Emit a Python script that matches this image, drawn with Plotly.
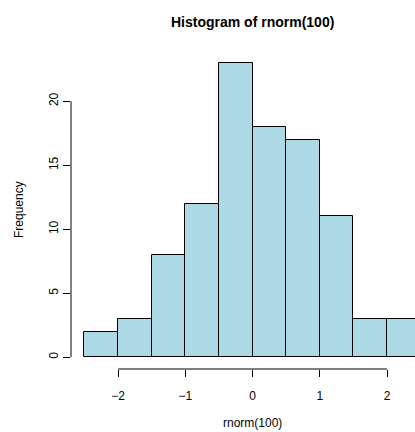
import plotly.graph_objects as go

breaks = [-2.5, -2.0, -1.5, -1.0, -0.5, 0.0, 0.5, 1.0, 1.5, 2.0, 2.5]
counts = [2, 3, 8, 12, 23, 18, 17, 11, 3, 3]
x_ticks = [-2, -1, 0, 1, 2]
y_ticks = [0, 5, 10, 15, 20]

title = "Histogram of rnorm(100)"
x_label = "rnorm(100)"
y_label = "Frequency"

centers = [(breaks[i] + breaks[i + 1]) / 2 for i in range(len(counts))]
widths = [breaks[i + 1] - breaks[i] for i in range(len(counts))]

font = "Liberation Sans, Arial, Helvetica, sans-serif"

fig = go.Figure()
fig.add_trace(go.Bar(
    x=centers, y=counts, width=widths,
    marker=dict(color="#ADD8E6", line=dict(color="black", width=1)),
    hoverinfo="x+y",
))

xr = [breaks[0] - 0.04 * (breaks[-1] - breaks[0]), 2.416]
yr = [-0.04 * max(counts), max(counts) * 1.04]

fig.update_layout(
    width=415, height=432,
    margin=dict(l=71, r=0, t=51, b=63),
    paper_bgcolor="white", plot_bgcolor="white",
    showlegend=False,
    bargap=0,
    font=dict(family=font, size=12, color="black"),
    xaxis=dict(
        range=xr, tickvals=x_ticks,
        ticktext=["\u2212" + str(-v) if v < 0 else str(v) for v in x_ticks],
        ticks="outside", ticklen=7, tickcolor="black", tickwidth=1,
        showgrid=False, zeroline=False, showline=False,
        ticklabelstandoff=9,
        tickfont=dict(size=12),
    ),
    yaxis=dict(
        range=yr, tickvals=y_ticks,
        ticks="outside", ticklen=7, tickcolor="black", tickwidth=1,
        showgrid=False, zeroline=False, showline=False,
        tickangle=-90, ticklabelstandoff=0,
        tickfont=dict(size=12),
    ),
    shapes=[
        dict(type="line", xref="x", yref="paper", x0=min(x_ticks), x1=max(x_ticks),
             y0=0, y1=0, line=dict(color="black", width=1)),
        dict(type="line", xref="paper", yref="y", x0=0, x1=0,
             y0=min(y_ticks), y1=max(y_ticks), line=dict(color="black", width=1)),
    ],
    annotations=[
        dict(text="<b>" + title + "</b>", xref="paper", yref="paper",
             x=(252.5 - 71) / (415 - 71), y=1, yshift=29, showarrow=False,
             xanchor="center", yanchor="middle", font=dict(size=14)),
        dict(text=x_label, xref="paper", yref="paper",
             x=(252.5 - 71) / (415 - 71), y=0, yshift=-54, showarrow=False,
             xanchor="center", yanchor="middle", font=dict(size=12)),
        dict(text=y_label, xref="paper", yref="paper", textangle=-90,
             x=0, xshift=-52, y=0.5, showarrow=False,
             xanchor="center", yanchor="middle", font=dict(size=12)),
    ],
)

fig.write_html(
    "out.html",
    config={"displayModeBar": False},
    post_script="document.body.style.margin='0px';document.body.style.overflow='hidden';",
)
